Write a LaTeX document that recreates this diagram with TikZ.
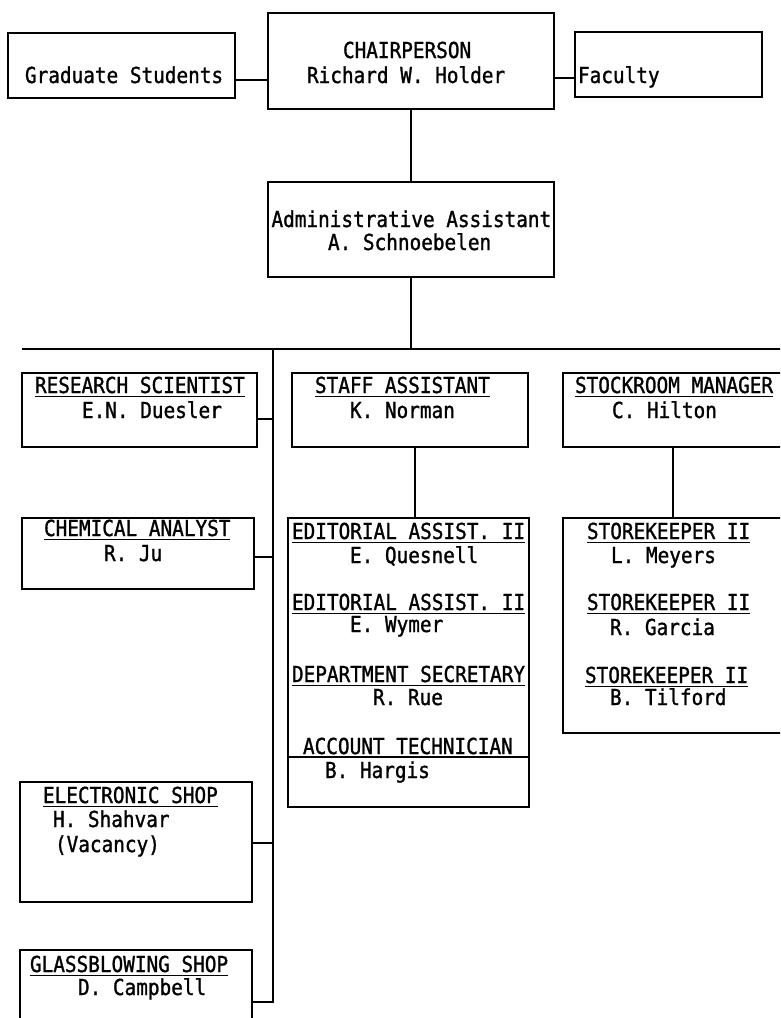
\documentclass[tikz,border=0pt]{standalone}
\usepackage{fontspec}
\newfontfamily\tw[FakeStretch=0.88,FakeBold=1.2]{DejaVu Sans Mono}
\newcommand\ulbox[1]{\setbox0\hbox{#1}\rlap{\rule[-4pt]{\wd0}{1.4pt}}\box0}
\begin{document}
\begin{tikzpicture}[x=1pt,y=-1pt,
  box/.style={draw, line width=1.4pt, inner sep=0pt, outer sep=0pt},
  txt/.style={anchor=base west, inner sep=0pt, outer sep=0pt, font=\tw\fontsize{22}{26}\selectfont},
  link/.style={line width=1.4pt}]
\useasboundingbox (0,0) rectangle (780,1018);
\clip (0,0) rectangle (780,1018);

% boxes
\node[box, minimum width=227, minimum height=65] (grad) at (121.5,65.5) {};
\node[box, minimum width=286, minimum height=96] (chair) at (411,61) {};
\node[box, minimum width=187, minimum height=65] (faculty) at (668.5,64.5) {};
\node[box, minimum width=286, minimum height=95] (admin) at (411,229.5) {};
\node[box, minimum width=235, minimum height=74] (research) at (139.5,410) {};
\node[box, minimum width=236, minimum height=74] (staff) at (410,410) {};
\node[box, minimum width=237, minimum height=74] (stock) at (681.5,410) {};
\node[box, minimum width=232, minimum height=71] (chem) at (138,553.5) {};
\node[box, minimum width=241, minimum height=289] (edit) at (408.5,662.5) {};
\node[box, minimum width=237, minimum height=215] (store) at (681.5,625.5) {};
\node[box, minimum width=232, minimum height=120] (elec) at (136,842) {};
\node[box, minimum width=232, minimum height=90] (glass) at (136,995) {};

% bus coordinates
\coordinate (hbL) at (22,349);
\coordinate (hbR) at (790,349);
\coordinate (vbT) at (273,349);
\coordinate (vbB) at (273,1003);

% connectors
\draw[link] ([yshift=-14.5pt]grad.east) -- ([yshift=-14.5pt]grad.east -| chair.west);
\draw[link] ([yshift=-13.5pt]faculty.west) -- ([yshift=-13.5pt]faculty.west -| chair.east);
\draw[link] (chair.south) -- (chair.south |- admin.north);
\draw[link] (admin.south) -- (admin.south |- hbL);
\draw[link] (hbL) -- (hbR);
\draw[link] (vbT) -- (vbB);
\draw[link] ([yshift=-9pt]research.east) -- ([yshift=-9pt]research.east -| vbT);
\draw[link] ([yshift=-3.5pt]chem.east) -- ([yshift=-3.5pt]chem.east -| vbT);
\draw[link] ([yshift=-1pt]elec.east) -- ([yshift=-1pt]elec.east -| vbT);
\draw[link] ([yshift=-7pt]glass.east) -- ([yshift=-7pt]glass.east -| vbT);
\draw[link] ([xshift=5pt]staff.south) -- ([xshift=5pt]staff.south |- edit.north);
\draw[link] ([xshift=-8.5pt]stock.south) -- ([xshift=-8.5pt]stock.south |- store.north);
\draw[link] ([yshift=-239pt]edit.north west) -- ([yshift=-239pt]edit.north east);

% texts
\node[txt] (gs) at (25,83) {Graduate Students};
\node[txt] (ch1) at (343,58) {CHAIRPERSON};
\node[txt] (ch2) at (307,83) {Richard W. Holder};
\node[txt] (fac) at (578,83) {Faculty};
\node[txt] (ad1) at (271.5,227) {Administrative Assistant};
\node[txt] (ad2) at (328,250) {A. Schnoebelen};
\node[txt] (rs1) at (35,393) {\ulbox{RESEARCH SCIENTIST}};
\node[txt] (rs2) at (82,418) {E.N. Duesler};
\node[txt] (sa1) at (315,393) {\ulbox{STAFF ASSISTANT}};
\node[txt] (sa2) at (350,418) {K. Norman};
\node[txt] (sm1) at (575,393) {\ulbox{STOCKROOM MANAGER}};
\node[txt] (sm2) at (612,418) {C. Hilton};
\node[txt] (ca1) at (44,536) {\ulbox{CHEMICAL ANALYST}};
\node[txt] (ca2) at (104,561) {R. Ju};
\node[txt] (ed1) at (292,539) {\ulbox{EDITORIAL ASSIST. II}};
\node[txt] (ed2) at (350,563) {E. Quesnell};
\node[txt] (ed3) at (292,610) {\ulbox{EDITORIAL ASSIST. II}};
\node[txt] (ed4) at (350,632) {E. Wymer};
\node[txt] (ed5) at (292,682) {\ulbox{DEPARTMENT SECRETARY}};
\node[txt] (ed6) at (373,705) {R. Rue};
\node[txt] (ed7) at (303,754) {ACCOUNT TECHNICIAN};
\node[txt] (ed8) at (325,778) {B. Hargis};
\node[txt] (sk1) at (587,539) {\ulbox{STOREKEEPER II}};
\node[txt] (sk2) at (611,563) {L. Meyers};
\node[txt] (sk3) at (587,610) {\ulbox{STOREKEEPER II}};
\node[txt] (sk4) at (610,635) {R. Garcia};
\node[txt] (sk5) at (585,683) {\ulbox{STOREKEEPER II}};
\node[txt] (sk6) at (610,705) {B. Tilford};
\node[txt] (es1) at (43,803) {\ulbox{ELECTRONIC SHOP}};
\node[txt] (es2) at (53,827) {H. Shahvar};
\node[txt] (es3) at (55,852) {(Vacancy)};
\node[txt] (gb1) at (30,972) {\ulbox{GLASSBLOWING SHOP}};
\node[txt] (gb2) at (78,995) {D. Campbell};
\end{tikzpicture}
\end{document}
